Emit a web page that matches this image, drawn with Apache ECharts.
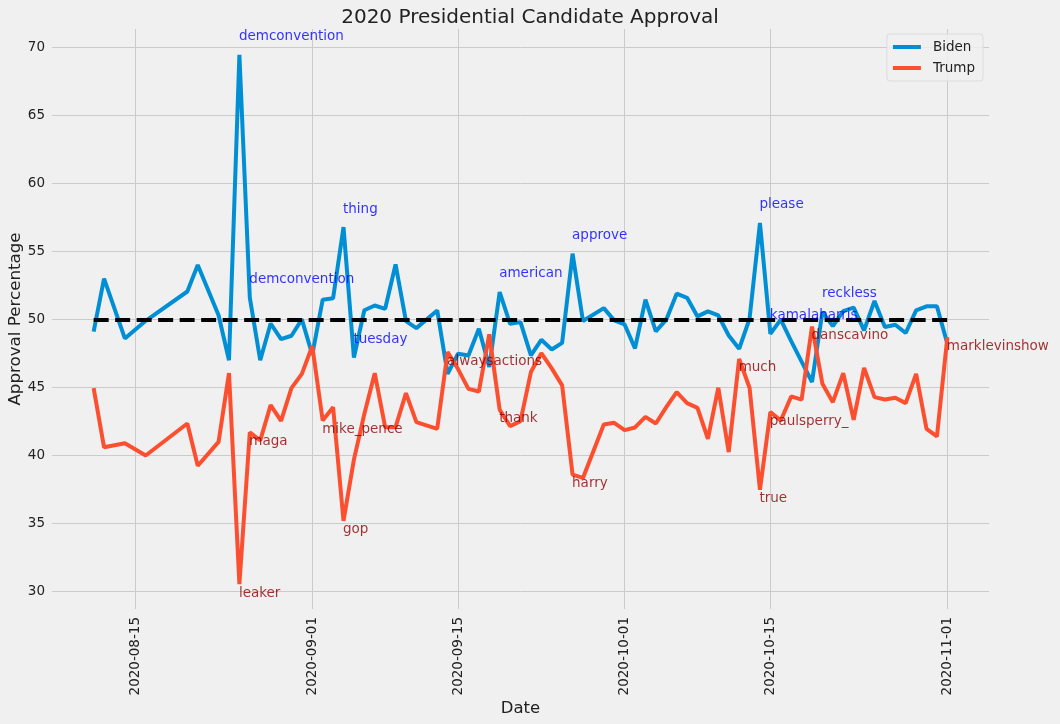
<!DOCTYPE html>
<html>
<head>
<meta charset="utf-8">
<title>2020 Presidential Candidate Approval</title>
<script src="https://cdn.jsdelivr.net/npm/echarts@6/dist/echarts.min.js"></script>
<style>
  html, body { margin: 0; padding: 0; background: #f0f0f0; }
  #main { width: 1060px; height: 724px; }
</style>
</head>
<body>
<div id="main"></div>
<script>
// days that have a poll value
var dates = [
  '2020-08-11', '2020-08-12', '2020-08-14', '2020-08-16', '2020-08-20', '2020-08-21',
  '2020-08-23', '2020-08-24', '2020-08-25', '2020-08-26', '2020-08-27', '2020-08-28',
  '2020-08-29', '2020-08-30', '2020-08-31', '2020-09-01', '2020-09-02', '2020-09-03',
  '2020-09-04', '2020-09-05', '2020-09-06', '2020-09-07', '2020-09-08', '2020-09-09',
  '2020-09-10', '2020-09-11', '2020-09-13', '2020-09-14', '2020-09-15', '2020-09-16',
  '2020-09-17', '2020-09-18', '2020-09-19', '2020-09-20', '2020-09-21', '2020-09-22',
  '2020-09-23', '2020-09-24', '2020-09-25', '2020-09-26', '2020-09-27', '2020-09-29',
  '2020-09-30', '2020-10-01', '2020-10-02', '2020-10-03', '2020-10-04', '2020-10-05',
  '2020-10-06', '2020-10-07', '2020-10-08', '2020-10-09', '2020-10-10', '2020-10-11',
  '2020-10-12', '2020-10-13', '2020-10-14', '2020-10-15', '2020-10-16', '2020-10-17',
  '2020-10-18', '2020-10-19', '2020-10-20', '2020-10-21', '2020-10-22', '2020-10-23',
  '2020-10-24', '2020-10-25', '2020-10-26', '2020-10-27', '2020-10-28', '2020-10-29',
  '2020-10-30', '2020-10-31', '2020-11-01'
];

var biden = [
  49.1, 53.0, 48.6, 49.9, 52.05, 54.0,
  50.3, 47.0, 69.45, 51.6, 47.0, 49.7,
  48.55, 48.8, 50.0, 47.4, 51.45, 51.55,
  56.78, 47.2, 50.67, 51.02, 50.78, 54.04,
  49.88, 49.36, 50.66, 46.0, 47.48, 47.35,
  49.31, 46.5, 52.01, 49.68, 49.8, 47.35,
  48.5, 47.79, 48.28, 54.83, 49.88, 50.83,
  49.93, 49.63, 47.87, 51.45, 49.12, 49.98,
  51.89, 51.59, 50.22, 50.59, 50.29, 48.82,
  47.84, 50.05, 57.08, 48.95, 49.98, 48.4,
  46.9, 45.4, 50.54, 49.51, 50.61, 50.86,
  49.19, 51.35, 49.44, 49.61, 49.0, 50.66,
  50.96, 50.96, 48.21
];

var trump = [
  44.95, 40.6, 40.9, 40.0, 42.35, 39.25,
  41.0, 46.05, 30.55, 41.7, 41.1, 43.7,
  42.55, 44.95, 46.0, 48.05, 42.57, 43.55,
  35.2, 39.7, 43.05, 46.05, 42.08, 42.08,
  44.58, 42.45, 41.96, 47.6, 46.35, 44.9,
  44.7, 48.9, 43.36, 42.16, 42.52, 46.13,
  47.52, 46.4, 45.15, 38.6, 38.35, 42.28,
  42.4, 41.86, 42.06, 42.84, 42.35, 43.55,
  44.66, 43.85, 43.5, 41.23, 44.98, 40.25,
  47.1, 44.98, 37.48, 43.19, 42.57, 44.34,
  44.1, 49.48, 45.27, 43.92, 46.05, 42.62,
  46.44, 44.29, 44.12, 44.24, 43.85, 46.0,
  41.96, 41.4, 48.7
];

// top word of the day, [date, word]
var bidenWords = [
  ['2020-08-25', 'demconvention'], ['2020-08-26', 'demconvention'], ['2020-09-04', 'thing'],
  ['2020-09-05', 'tuesday'], ['2020-09-19', 'american'], ['2020-09-26', 'approve'],
  ['2020-10-14', 'please'], ['2020-10-15', 'kamalaharris'], ['2020-10-20', 'reckless']
];
var trumpWords = [
  ['2020-08-25', 'leaker'], ['2020-08-26', 'maga'], ['2020-09-02', 'mike_pence'],
  ['2020-09-04', 'gop'], ['2020-09-14', 'alwaysactions'], ['2020-09-19', 'thank'],
  ['2020-09-26', 'harry'], ['2020-10-12', 'much'], ['2020-10-14', 'true'],
  ['2020-10-15', 'paulsperry_'], ['2020-10-19', 'danscavino'], ['2020-11-01', 'marklevinshow']
];

var xTickLabels = ['2020-08-15', '2020-09-01', '2020-09-15', '2020-10-01', '2020-10-15', '2020-11-01'];
var yTickLabels = [30, 35, 40, 45, 50, 55, 60, 65, 70];
var evenLine = 50;

// axis frame: one category per day
var axisStart = '2020-08-07';
var axisEnd = '2020-11-05';
var days = [];
for (var t = Date.parse(axisStart + 'T00:00:00Z'); t <= Date.parse(axisEnd + 'T00:00:00Z'); t += 864e5) {
  days.push(new Date(t).toISOString().slice(0, 10));
}

var font = 'DejaVu Sans';

function pairs(vals) {
  return dates.map(function (d, i) { return [d, vals[i]]; });
}

// words sit one point above (biden) / below (trump) the value of that day
function notes(words, vals, shift) {
  return words.map(function (w) {
    var v = vals[dates.indexOf(w[0])];
    return { value: [w[0], v + shift], name: w[1] };
  });
}

function noteSeries(name, data, color) {
  return {
    name: name,
    type: 'scatter',
    data: data,
    symbolSize: 1,
    itemStyle: { color: 'transparent' },
    z: 10,
    label: {
      show: true,
      position: [0, 0],
      align: 'left',
      verticalAlign: 'bottom',
      offset: [0, 3],
      formatter: function (p) { return p.name; },
      color: color,
      fontFamily: font,
      fontSize: 13.5
    }
  };
}

var chart = echarts.init(document.getElementById('main'));

var option = {
  backgroundColor: '#f0f0f0',
  animation: false,
  title: {
    text: '2020 Presidential Candidate Approval',
    left: 'center',
    top: 3,
    textStyle: { fontFamily: font, fontSize: 20, fontWeight: 'normal', color: '#222' }
  },
  legend: {
    data: ['Biden', 'Trump'],
    orient: 'vertical',
    right: 77,
    top: 34,
    padding: [6, 8, 6, 6],
    itemWidth: 28,
    itemHeight: 4,
    itemGap: 7,
    icon: 'rect',
    backgroundColor: 'rgba(240,240,240,0.8)',
    borderColor: '#dcdcdc',
    borderWidth: 1,
    borderRadius: 3,
    textStyle: { fontFamily: font, fontSize: 13.5, color: '#222', padding: [0, 0, 0, 7] }
  },
  grid: { left: 52, right: 71, top: 29, bottom: 115, outerBoundsMode: 'none', containLabel: false },
  xAxis: {
    type: 'category',
    data: days,
    boundaryGap: false,
    name: 'Date',
    nameLocation: 'middle',
    nameGap: 91,
    nameMoveOverlap: false,
    nameTextStyle: { fontFamily: font, fontSize: 16.5, color: '#222' },
    axisLine: { show: false },
    axisTick: { show: false },
    axisLabel: {
      rotate: 90,
      margin: 8,
      fontFamily: font,
      fontSize: 13.5,
      color: '#222',
      interval: function (i, v) { return xTickLabels.indexOf(v) >= 0; }
    },
    splitLine: {
      show: true,
      interval: function (i, v) { return xTickLabels.indexOf(v) >= 0; },
      lineStyle: { color: '#cbcbcb', width: 1 }
    }
  },
  yAxis: {
    type: 'value',
    min: 28.72,
    max: 71.34,
    splitNumber: 9,
    name: 'Approval Percentage',
    nameLocation: 'middle',
    nameRotate: 90,
    nameGap: 28,
    nameMoveOverlap: false,
    nameTextStyle: { fontFamily: font, fontSize: 16.7, color: '#222' },
    axisLine: { show: false },
    axisTick: { show: false },
    axisLabel: {
      margin: 7,
      showMinLabel: false,
      showMaxLabel: false,
      fontFamily: font,
      fontSize: 13.5,
      color: '#222',
      formatter: function (v) { return yTickLabels.indexOf(v) >= 0 ? String(v) : ''; }
    },
    splitLine: {
      show: true,
      showMinLine: false,
      showMaxLine: false,
      lineStyle: { color: '#cbcbcb', width: 1 }
    }
  },
  series: [
    {
      name: 'Biden',
      type: 'line',
      data: pairs(biden),
      showSymbol: false,
      color: '#008fd5',
      lineStyle: { width: 4, color: '#008fd5' }
    },
    {
      name: 'Trump',
      type: 'line',
      data: pairs(trump),
      showSymbol: false,
      color: '#fc4f30',
      lineStyle: { width: 4, color: '#fc4f30' }
    },
    {
      name: 'even',
      type: 'line',
      data: [],
      z: 5,
      markLine: {
        silent: true,
        symbol: 'none',
        label: { show: false },
        lineStyle: { color: '#000', width: 4, type: [15, 6.5] },
        data: [[
          { coord: [dates[0], evenLine] },
          { coord: [dates[dates.length - 1], evenLine] }
        ]]
      }
    },
    noteSeries('bidenWords', notes(bidenWords, biden, 1), '#0000ff'),
    noteSeries('trumpWords', notes(trumpWords, trump, -1), '#8b0000')
  ]
};

chart.setOption(option);
</script>
</body>
</html>
